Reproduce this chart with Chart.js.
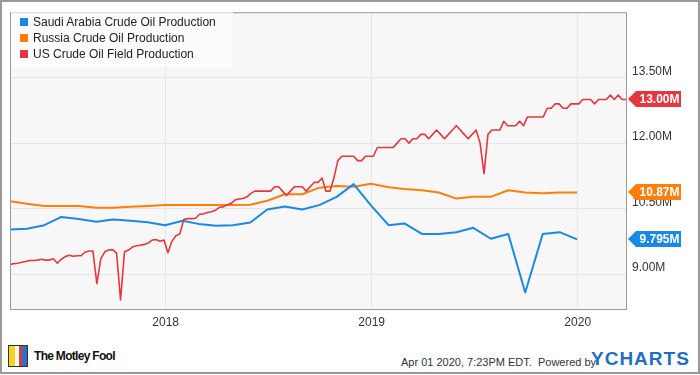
<!DOCTYPE html>
<html>
<head>
<meta charset="utf-8">
<script src="https://cdn.jsdelivr.net/npm/chart.js@4.4.1/dist/chart.umd.min.js"></script>
<style>
  body { margin: 0; background: #fff; font-family: "Liberation Sans", Arial, sans-serif; }
  #wrap { position: relative; width: 700px; height: 375px; overflow: hidden; background: #fff; }
  #chart { position: absolute; left: 0; top: 0; }
  #frame { position: absolute; left: 0; top: 0; width: 700px; height: 374px; box-sizing: border-box; border: 2px solid #999; pointer-events: none; }
  #legend { position: absolute; left: 11px; top: 11px; width: 222px; height: 56px; background: rgba(255,255,255,0.6); }
  .item { position: absolute; left: 9px; height: 16px; line-height: 16px; font-size: 12px; color: #222; white-space: nowrap; }
  .item i { display: inline-block; width: 8px; height: 8px; margin-right: 5px; }
  #logo { position: absolute; left: 8px; top: 345px; width: 20px; height: 22px; border: 1px solid #333; background: linear-gradient(90deg, #f4d21f 0 35%, #fff 35% 55%, #e23b2e 55% 75%, #2a6fc9 75%); box-sizing: border-box; }
  #fool { position: absolute; left: 34px; top: 349px; font: bold 12px "Liberation Sans Narrow", "Liberation Sans", Arial, sans-serif; color: #111; letter-spacing: -0.7px; }
  #stamp { position: absolute; left: 401px; top: 356px; font-size: 11px; color: #333; white-space: nowrap; }
  #ycharts { position: absolute; left: 591px; top: 348px; font: bold 19px "Liberation Sans", Arial, sans-serif; color: #1f6fc6; letter-spacing: 1px; }
</style>
</head>
<body>
<div id="wrap">
  <canvas id="chart" width="700" height="340"></canvas>
  <div id="legend"></div>
  <div id="logo"></div>
  <div id="fool">The Motley Fool</div>
  <div id="stamp">Apr 01 2020, 7:23PM EDT.&nbsp; Powered by</div>
  <div id="ycharts">YCHARTS</div>
  <div id="frame"></div>
</div>
<script>
// monthly series, month-end values, Mar 2017 .. Dec 2019 (millions of barrels per day)
var monthStart = [2017, 3];
var saudiProduction = [
    10.02, 10.04, 10.12, 10.31, 10.26, 10.20, 10.25, 10.22, 10.19, 10.12,
    10.22, 10.15, 10.11, 10.12, 10.18, 10.48, 10.55, 10.48, 10.58, 10.77, 11.06, 10.57,
    10.12, 10.16, 9.92, 9.92, 9.96, 10.06, 9.81, 9.92, 8.58, 9.92, 9.96, 9.795
];
var russiaProduction = [
    10.67, 10.61, 10.56, 10.56, 10.56, 10.52, 10.52, 10.54, 10.56, 10.58,
    10.58, 10.58, 10.58, 10.58, 10.59, 10.68, 10.83, 10.83, 10.98, 11.02, 11.00, 11.07,
    10.99, 10.95, 10.92, 10.87, 10.73, 10.77, 10.77, 10.92, 10.87, 10.85, 10.87, 10.87
];

// weekly series, Fridays starting 2017-03-31
var weekStart = [2017, 3, 31];
var usProduction = [
    9.22, 9.24, 9.25, 9.27, 9.29, 9.31, 9.31, 9.32, 9.34, 9.32,
    9.32, 9.35, 9.25, 9.34, 9.40, 9.43, 9.41, 9.42, 9.42, 9.50,
    9.53, 9.53, 8.78, 9.35, 9.51, 9.55, 9.56, 9.48, 8.41, 9.51,
    9.55, 9.62, 9.65, 9.66, 9.68, 9.71, 9.78, 9.79, 9.75, 9.78,
    9.49, 9.75, 9.88, 9.92, 10.25, 10.27, 10.27, 10.28, 10.37, 10.38,
    10.41, 10.43, 10.46, 10.53, 10.54, 10.59, 10.62, 10.70, 10.72, 10.73,
    10.77, 10.85, 10.90, 10.90, 10.90, 10.90, 10.90, 11.00, 11.00, 10.90,
    10.80, 10.90, 11.00, 11.00, 11.00, 10.90, 11.00, 11.10, 11.10, 11.20,
    10.90, 10.90, 11.20, 11.60, 11.70, 11.70, 11.70, 11.70, 11.60, 11.60,
    11.70, 11.70, 11.70, 11.90, 11.90, 11.90, 11.90, 11.90, 12.00, 12.10,
    12.10, 12.00, 12.10, 12.10, 12.20, 12.20, 12.10, 12.20, 12.30, 12.20,
    12.10, 12.20, 12.30, 12.40, 12.30, 12.20, 12.10, 12.20, 12.30, 12.00,
    11.30, 12.20, 12.30, 12.30, 12.30, 12.50, 12.40, 12.40, 12.40, 12.50,
    12.40, 12.60, 12.60, 12.60, 12.60, 12.60, 12.80, 12.80, 12.90, 12.90,
    12.80, 12.80, 12.90, 12.90, 12.90, 13.00, 13.00, 13.00, 12.90, 13.00,
    13.00, 13.00, 13.10, 13.00, 13.10, 13.00, 13.00
];

var seriesNames = ['Saudi Arabia Crude Oil Production', 'Russia Crude Oil Production', 'US Crude Oil Field Production'];
var seriesColors = ['#1b88e6', '#ff7f0a', '#e5373f'];
var yTicks = [9.0, 10.5, 12.0, 13.5];
var xTicks = [2018, 2019, 2020];
var xRange = [2017.2442, 2020.2393];
var yRange = [8.2, 15.0];

function decYear(ms) {
    var d = new Date(ms);
    var y = d.getUTCFullYear();
    var a = Date.UTC(y, 0, 1), b = Date.UTC(y + 1, 0, 1);
    return y + (ms - a) / (b - a);
}

function monthly(values) {
    return values.map(function (v, i) {
        // last day of the month
        return { x: decYear(Date.UTC(monthStart[0], monthStart[1] - 1 + i + 1, 0)), y: v };
    });
}

function weekly(values) {
    return values.map(function (v, i) {
        return { x: decYear(Date.UTC(weekStart[0], weekStart[1] - 1, weekStart[2] + 7 * i)), y: v };
    });
}

// legend
var legend = document.getElementById('legend');
seriesNames.forEach(function (name, i) {
    var el = document.createElement('div');
    el.className = 'item';
    el.style.top = (3 + i * 16) + 'px';
    el.innerHTML = '<i style="background:' + seriesColors[i] + '"></i>' + name;
    legend.appendChild(el);
});

var plotBox = {
    id: 'plotBox',
    beforeDraw: function (chart) {
        var a = chart.chartArea, ctx = chart.ctx;
        ctx.save();
        ctx.fillStyle = '#f7f7f7';
        ctx.fillRect(a.left, a.top, a.right - a.left, a.bottom - a.top);
        ctx.restore();
    },
    afterDatasetsDraw: function (chart) {
        var a = chart.chartArea, ctx = chart.ctx;
        ctx.save();
        ctx.strokeStyle = '#9a9a9a';
        ctx.lineWidth = 1;
        ctx.strokeRect(a.left + 0.5, a.top + 0.5, a.right - a.left - 1, a.bottom - a.top);
        ctx.restore();
    }
};

// value flags on the right axis
var lastTags = {
    id: 'lastTags',
    afterDraw: function (chart) {
        var ctx = chart.ctx, a = chart.chartArea, ys = chart.scales.y;
        var x0 = a.right + 1, x1 = x0 + 8, x2 = 681;
        chart.data.datasets.forEach(function (ds) {
            var v = ds.data[ds.data.length - 1].y;
            var y = Math.round(ys.getPixelForValue(v));
            ctx.save();
            ctx.fillStyle = ds.borderColor;
            ctx.beginPath();
            ctx.moveTo(x0, y);
            ctx.lineTo(x1, y - 8);
            ctx.lineTo(x2, y - 8);
            ctx.lineTo(x2, y + 8);
            ctx.lineTo(x1, y + 8);
            ctx.closePath();
            ctx.fill();
            ctx.fillStyle = '#fff';
            ctx.font = 'bold 12px "Liberation Sans", Arial, sans-serif';
            ctx.textAlign = 'center';
            ctx.textBaseline = 'middle';
            ctx.fillText(v.toPrecision(4) + 'M', (x1 + x2) / 2 + 1, y + 1);
            ctx.restore();
        });
    }
};

var ctx = document.getElementById('chart').getContext('2d');
var chart = new Chart(ctx, {
    type: 'line',
    data: {
        datasets: [{
            label: seriesNames[2],
            data: weekly(usProduction),
            borderColor: seriesColors[2],
            borderWidth: 1.6,
            order: 0
        }, {
            label: seriesNames[0],
            data: monthly(saudiProduction),
            borderColor: seriesColors[0],
            borderWidth: 2,
            order: 1
        }, {
            label: seriesNames[1],
            data: monthly(russiaProduction),
            borderColor: seriesColors[1],
            borderWidth: 2,
            order: 2
        }]
    },
    options: {
        responsive: false,
        animation: false,
        events: [],
        elements: { point: { radius: 0 }, line: { tension: 0, borderJoinStyle: 'round' } },
        layout: { padding: { left: 10, top: 10, right: 0, bottom: 0 } },
        plugins: { legend: { display: false }, tooltip: { enabled: false } },
        scales: {
            x: {
                type: 'linear',
                min: xRange[0],
                max: xRange[1],
                afterBuildTicks: function (s) { s.ticks = xTicks.map(function (v) { return { value: v }; }); },
                afterFit: function (s) { s.height = 31; },
                grid: { color: '#e6e6e6', drawTicks: false },
                border: { display: false },
                ticks: {
                    padding: 6,
                    color: '#333',
                    font: { family: '"Liberation Sans", Arial, sans-serif', size: 12 },
                    callback: function (v) { return String(v); },
                    maxRotation: 0
                }
            },
            y: {
                position: 'right',
                min: yRange[0],
                max: yRange[1],
                afterBuildTicks: function (s) { s.ticks = yTicks.map(function (v) { return { value: v }; }); },
                afterFit: function (s) { s.width = 73; },
                grid: { color: '#e6e6e6', drawTicks: false },
                border: { display: false },
                ticks: {
                    padding: 5,
                    labelOffset: -6,
                    color: '#333',
                    font: { family: '"Liberation Sans", Arial, sans-serif', size: 12 },
                    callback: function (v) { return v.toFixed(2) + 'M'; }
                }
            }
        }
    },
    plugins: [plotBox, lastTags]
});
</script>
</body>
</html>
